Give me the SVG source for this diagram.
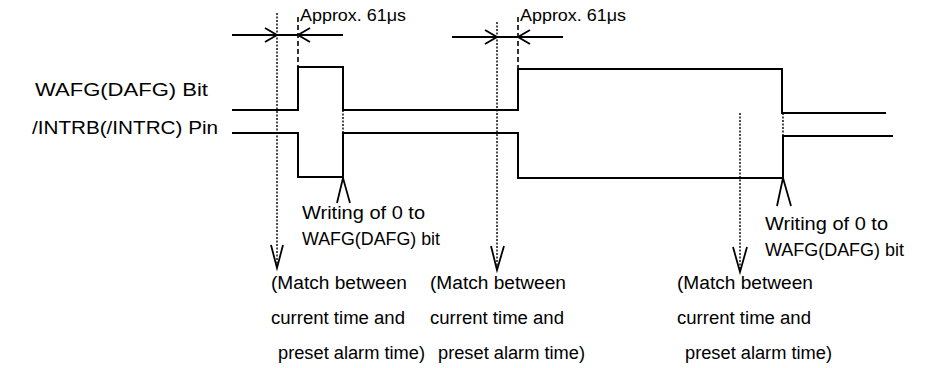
<svg xmlns="http://www.w3.org/2000/svg" width="945" height="368" viewBox="0 0 945 368">
<style>
text{font-family:"Liberation Sans",Arial,sans-serif;font-size:18px;fill:#000}
.s{font-size:17px}
.w{fill:none;stroke:#000;stroke-width:2}
.dot{fill:none;stroke:#000;stroke-width:1.4;stroke-dasharray:2,1.5}
.dash{fill:none;stroke:#000;stroke-width:1.6;stroke-dasharray:5,3}
.ah{fill:none;stroke:#000;stroke-width:1.8}
</style>
<rect width="945" height="368" fill="#fff"/>
<g id="labels">
<text x="35" y="96" textLength="173" lengthAdjust="spacingAndGlyphs">WAFG(DAFG) Bit</text>
<text x="32" y="134" textLength="186" lengthAdjust="spacingAndGlyphs">/INTRB(/INTRC) Pin</text>
</g>
<g id="waveforms">
<path class="w" d="M232,110 H298 V67 H343 V110 H518 V69 H782 V113 H886"/>
<path class="w" d="M232,133 H298 V177 H343 V133 H518 V178 H783 V136 H893"/>
</g>
<g id="connectors">
<path class="dot" d="M277,13 V268"/>
<path class="dot" d="M497,22 V270"/>
<path class="dot" d="M740,113 V272"/>
<path class="dot" d="M343,110 V177"/>
<path class="dot" d="M783,113 V178"/>
<path class="dash" d="M298,17 V67"/>
<path class="dash" d="M518,17 V69"/>
<path class="w" d="M232,35 H343"/>
<path class="w" d="M452,37 H563"/>
<path class="ah" d="M265,28 L277,35 L265,42 M310,28 L298,35 L310,42"/>
<path class="ah" d="M485,30 L497,37 L485,44 M530,30 L518,37 L530,44"/>
<path class="ah" d="M271,245 L277,268 L283,245"/>
<path class="ah" d="M491,246 L497,270 L504,246"/>
<path class="ah" d="M733,247 L740,272 L747,247"/>
<path class="ah" d="M337,203 L343,178 L350,203"/>
<path class="ah" d="M777,206 L783,178 L791,206"/>
</g>
<g id="ann1">
<text class="s" x="300" y="21" textLength="106" lengthAdjust="spacingAndGlyphs">Approx. 61μs</text>
</g>
<g id="ann2">
<text class="s" x="520" y="21" textLength="106" lengthAdjust="spacingAndGlyphs">Approx. 61μs</text>
</g>
<g id="write1">
<text x="302" y="219" textLength="123" lengthAdjust="spacingAndGlyphs">Writing of 0 to</text>
<text x="302" y="245" textLength="138" lengthAdjust="spacingAndGlyphs">WAFG(DAFG) bit</text>
</g>
<g id="write2">
<text x="765" y="230" textLength="123" lengthAdjust="spacingAndGlyphs">Writing of 0 to</text>
<text x="765" y="256" textLength="139" lengthAdjust="spacingAndGlyphs">WAFG(DAFG) bit</text>
</g>
<g id="match1">
<text x="271" y="289" textLength="136" lengthAdjust="spacingAndGlyphs">(Match between</text>
<text x="271" y="324" textLength="134" lengthAdjust="spacingAndGlyphs">current time and</text>
<text x="278" y="359" textLength="147" lengthAdjust="spacingAndGlyphs">preset alarm time)</text>
</g>
<g id="match2">
<text x="430" y="289" textLength="136" lengthAdjust="spacingAndGlyphs">(Match between</text>
<text x="430" y="324" textLength="134" lengthAdjust="spacingAndGlyphs">current time and</text>
<text x="438" y="359" textLength="147" lengthAdjust="spacingAndGlyphs">preset alarm time)</text>
</g>
<g id="match3">
<text x="677" y="289" textLength="136" lengthAdjust="spacingAndGlyphs">(Match between</text>
<text x="677" y="324" textLength="134" lengthAdjust="spacingAndGlyphs">current time and</text>
<text x="685" y="359" textLength="147" lengthAdjust="spacingAndGlyphs">preset alarm time)</text>
</g>
</svg>
